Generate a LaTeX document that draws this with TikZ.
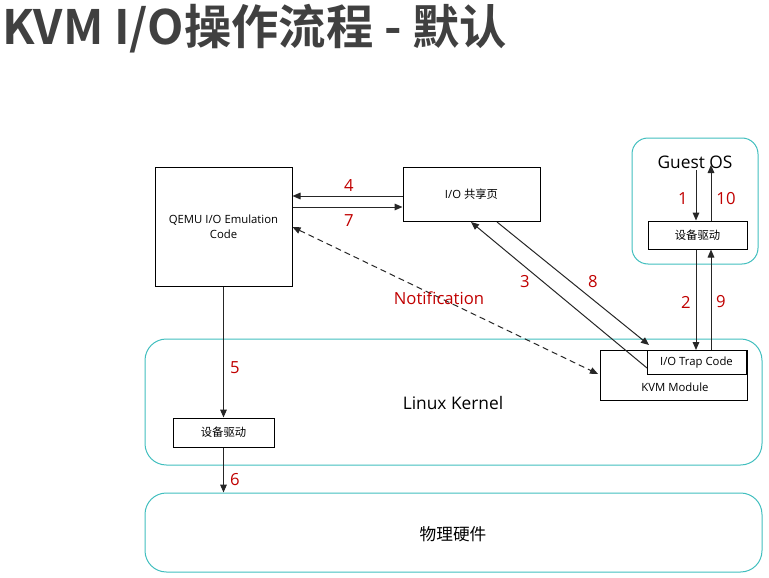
\documentclass[tikz,border=0pt]{standalone}
\usepackage{fontspec}
\setmainfont{Open Sans}
\newfontfamily\cjk{Noto Sans CJK SC}
\newfontfamily\cjkb{Noto Sans CJK SC Bold}
\usetikzlibrary{arrows.meta}
\definecolor{teal1}{RGB}{64,190,190}
\definecolor{lblred}{RGB}{192,0,0}
\definecolor{ttl}{RGB}{64,64,64}
\tikzset{
  box/.style={draw=black, line width=0.75pt, fill=white, inner sep=0pt},
  region/.style={draw=teal1, line width=0.75pt, rounded corners=16pt, inner sep=0pt},
  arr/.style={draw=black!85, line width=0.75pt, -{Triangle[length=6pt,width=5pt]}},
  num/.style={text=lblred, font=\fontsize{12.5}{14}\selectfont},
  small/.style={font=\fontsize{8.5}{11}\selectfont},
  big/.style={font=\fontsize{13}{15}\selectfont},
}
\begin{document}
\begin{tikzpicture}[x=0.75pt,y=-0.75pt]
\useasboundingbox (0,0) rectangle (769,578);
% title
\node[anchor=base west, inner sep=0pt, text=ttl, font=\cjkb\fontsize{35.5}{38}\selectfont] (title) at (2,45) {KVM I/O操作流程 - 默认};
% regions
\node[region, minimum width=462.75pt, minimum height=94.5pt] (linux) at (453.5,402) {};
\node[big] (linuxlbl) at (453,403) {Linux Kernel};
\node[region, minimum width=462.75pt, minimum height=59.25pt] (hw) at (453.5,532.5) {};
\node[big, font=\cjk\fontsize{12.5}{14}\selectfont] (hwlbl) at (453,534) {物理硬件};
\node[region, rounded corners=12pt, minimum width=94.5pt, minimum height=94.5pt] (guest) at (695,201) {};
\node[big] (guestlbl) at (695,162) {Guest OS};
% boxes
\node[box, small, minimum width=102.75pt, minimum height=89.25pt, align=center] (qemu) at (223.5,226.5) {QEMU I/O Emulation\\Code};
\node[box, small, minimum width=102.75pt, minimum height=40.5pt] (share) at (471.5,194) {I/O {\cjk 共享页}};
\node[box, font=\cjk\fontsize{8.5}{11}\selectfont, minimum width=74.25pt, minimum height=21pt] (gdrv) at (697.5,235) {设备驱动};
\node[box, minimum width=110.25pt, minimum height=37.5pt] (kvm) at (673.5,375) {};
\node[small] (kvmlbl) at (675,387) {KVM Module};
\node[box, small, minimum width=74.25pt, minimum height=18pt] (trap) at (696.5,362.5) {I/O Trap Code};
\node[box, font=\cjk\fontsize{8.5}{11}\selectfont, minimum width=75.75pt, minimum height=21.75pt] (kdrv) at (223.5,432.5) {设备驱动};
% named ends in Guest OS
\coordinate (g1) at (696,170);
\coordinate (g10) at (711,165);
% arrows
\draw[arr] (share.west |- 0,196) -- (qemu.east |- 0,196);
\draw[arr] (qemu.east |- 0,207) -- (share.west |- 0,207);
\draw[arr, dash pattern=on 4.5pt off 3pt, {Triangle[length=6pt,width=5pt]}-{Triangle[length=6pt,width=5pt]}] (qemu.east |- 0,227) -- (598,374);
\draw[arr] (647,368) -- (471,222);
\draw[arr] (497,222) -- (649,345);
\draw[arr] (g1) -- (gdrv.north -| 696,0);
\draw[arr] (gdrv.north -| 711,0) -- (g10);
\draw[arr] (gdrv.south -| 696,0) -- (trap.north -| 696,0);
\draw[arr] (trap.north -| 711,0) -- (gdrv.south -| 711,0);
\draw[arr] (qemu.south) -- (kdrv.north);
\draw[arr] (kdrv.south) -- (hw.north -| kdrv.south);
% labels
\node[num] (n4) at (349,186) {4};
\node[num] (n7) at (349,221) {7};
\node[num] (nnot) at (439,298) {Notification};
\node[num] (n3) at (525,282) {3};
\node[num] (n8) at (593,282) {8};
\node[num] (n1) at (683,199) {1};
\node[num] (n10) at (726,199) {10};
\node[num] (n2) at (686,302) {2};
\node[num] (n9) at (721,302) {9};
\node[num] (n5) at (235,368) {5};
\node[num] (n6) at (235,480) {6};
\end{tikzpicture}
\end{document}
